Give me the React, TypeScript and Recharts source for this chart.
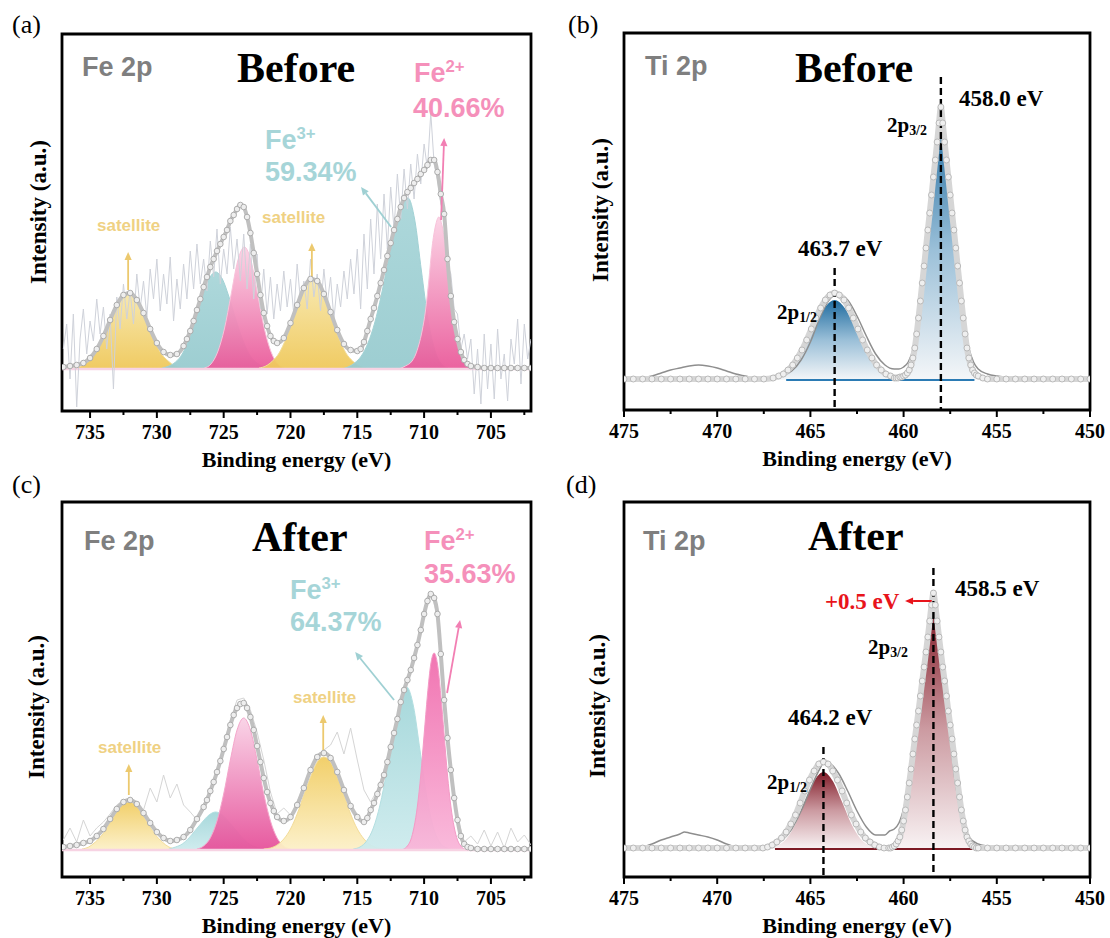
import React from "react";
import {
  ComposedChart,
  Area,
  Line,
  XAxis,
  YAxis,
  ReferenceLine,
  ReferenceArea,
} from "recharts";

type Pt = [number, number];

// ---------- axes ----------
const FE_TICKS = [702.5, 705, 707.5, 710, 712.5, 715, 717.5, 720, 722.5, 725, 727.5, 730, 732.5, 735];
const TI_TICKS = [450, 452.5, 455, 457.5, 460, 462.5, 465, 467.5, 470, 472.5, 475];

// ---------- (a) Fe 2p before ----------
const feBeforeRaw: Pt[] = [
  [737, 20], [736.75, 45], [736.5, -10], [736.25, 55], [736, -38], [735.75, 30], [735.5, 60], [735.25, 15],
  [735, 48], [734.75, 28], [734.5, 70], [734.25, 35], [734, 62], [733.75, 20], [733.5, 55], [733.25, -20],
  [733, 72], [732.75, 40], [732.5, 85], [732.25, 50], [732, 78], [731.75, 45], [731.5, 95], [731.25, 60],
  [731, 88], [730.75, 52], [730.5, 100], [730.25, 70], [730, 110], [729.75, 58], [729.5, 95], [729.25, 65],
  [729, 112], [728.75, 48], [728.5, 90], [728.25, 60], [728, 105], [727.75, 70], [727.5, 118], [727.25, 80],
  [727, 125], [726.75, 85], [726.5, 110], [726.25, 78], [726, 128], [725.75, 92], [725.5, 140], [725.25, 85],
  [725, 120], [724.75, 95], [724.5, 142], [724.25, 100], [724, 130], [723.75, 88], [723.5, 135], [723.25, 80],
  [723, 125], [722.75, 70], [722.5, 115], [722.25, 60], [722, 100], [721.75, 55], [721.5, 92], [721.25, 50],
  [721, 85], [720.75, 58], [720.5, 98], [720.25, 62], [720, 90], [719.75, 55], [719.5, 105], [719.25, 68],
  [719, 88], [718.75, 60], [718.5, 110], [718.25, 72], [718, 95], [717.75, 58], [717.5, 100], [717.25, 65],
  [717, 92], [716.75, 50], [716.5, 85], [716.25, 62], [716, 98], [715.75, 70], [715.5, 110], [715.25, 75],
  [715, 120], [714.75, 60], [714.5, 135], [714.25, 80], [714, 150], [713.75, 95], [713.5, 165], [713.25, 110],
  [713, 175], [712.75, 120], [712.5, 182], [712.25, 140], [712, 195], [711.75, 150], [711.5, 200], [711.25, 160],
  [711, 205], [710.75, 170], [710.5, 215], [710.25, 185], [710, 225], [709.75, 200], [709.5, 256], [709.25, 205],
  [709, 190], [708.75, 165], [708.5, 150], [708.25, 105], [708, 95], [707.75, 60], [707.5, 55], [707.25, 20],
  [707, 35], [706.75, 10], [706.5, 30], [706.25, -25], [706, 20], [705.75, -35], [705.5, 35], [705.25, -20],
  [705, 25], [704.75, -30], [704.5, 40], [704.25, -10], [704, 15], [703.75, -32], [703.5, 30], [703.25, 5],
  [703, 50], [702.75, -15], [702.5, 45], [702.25, 10], [702, 30],
];
const feBeforeEnvelope: Pt[] = [
  [737, 2], [736.5, 3], [736, 4], [735.5, 6], [735, 11], [734.5, 20], [734, 33], [733.5, 49], [733, 64],
  [732.5, 74], [732, 76], [731.5, 69], [731, 56], [730.5, 40], [730, 26], [729.5, 17], [729, 14], [728.5, 15],
  [728, 23], [727.75, 30], [727.5, 38], [727.25, 48], [727, 59], [726.75, 70], [726.5, 82], [726.25, 92],
  [726, 102], [725.75, 110], [725.5, 118], [725.25, 125], [725, 132], [724.75, 139], [724.5, 148], [724.25, 154],
  [724, 160], [723.75, 164], [723.5, 162], [723.25, 152], [723, 136], [722.75, 116], [722.5, 95], [722.25, 74],
  [722, 56], [721.75, 43], [721.5, 33], [721.25, 28], [721, 26], [720.5, 31], [720, 46], [719.5, 64], [719, 81],
  [718.5, 90], [718, 88], [717.5, 75], [717, 57], [716.5, 39], [716, 25], [715.5, 19], [715, 18], [714.75, 20],
  [714.5, 27], [714.25, 38], [714, 50], [713.75, 61], [713.5, 73], [713.25, 86], [713, 99], [712.75, 113],
  [712.5, 126], [712.25, 139], [712, 150], [711.75, 162], [711.5, 171], [711.25, 177], [711, 181], [710.75, 186],
  [710.5, 190], [710.25, 195], [710, 199], [709.75, 204], [709.5, 209], [709.25, 209], [709, 197], [708.75, 175],
  [708.5, 155], [708.25, 110], [708, 73], [707.75, 47], [707.5, 30], [707.25, 17], [707, 9], [706.75, 5],
  [706.5, 3], [706, 2], [705.5, 1], [705, 1], [704.5, 1], [704, 1], [703.5, 1], [703, 1], [702.5, 1], [702, 1],
];
const feBeforeSat1: Pt[] = [
  [736.65, 0], [736.15, 1], [735.65, 3], [735.15, 8], [734.65, 15], [734.15, 27], [733.65, 43], [733.15, 59],
  [732.65, 71], [732.15, 76], [731.65, 71], [731.15, 59], [730.65, 43], [730.15, 27], [729.65, 15], [729.15, 8],
  [728.65, 3], [728.15, 1], [727.65, 0],
];
const feBeforeFe3a: Pt[] = [
  [729.6, 1], [729.1, 3], [728.6, 7], [728.1, 15], [727.6, 30], [727.1, 50], [726.6, 72], [726.1, 90], [725.6, 97],
  [725.1, 90], [724.6, 72], [724.1, 50], [723.6, 30], [723.1, 15], [722.6, 7], [722.1, 3], [721.6, 1],
];
const feBeforeFe2a: Pt[] = [
  [726.45, 1], [725.95, 5], [725.45, 17], [724.95, 40], [724.45, 74], [723.95, 108], [723.45, 122],
  [722.95, 108], [722.45, 74], [721.95, 40], [721.45, 17], [720.95, 5], [720.45, 1],
];
const feBeforeSat2: Pt[] = [
  [722.35, 1], [721.85, 3], [721.35, 8], [720.85, 16], [720.35, 30], [719.85, 48], [719.35, 68], [718.85, 83],
  [718.35, 89], [717.85, 83], [717.35, 68], [716.85, 48], [716.35, 30], [715.85, 16], [715.35, 8], [714.85, 3], [714.35, 1],
];
const feBeforeFe3b: Pt[] = [
  [716.2, 0], [715.7, 2], [715.2, 6], [714.7, 13], [714.2, 26], [713.7, 46], [713.2, 74], [712.7, 107], [712.2, 137],
  [711.7, 160], [711.2, 171], [710.7, 149], [710.2, 98], [709.7, 49], [709.2, 19], [708.7, 5], [708.2, 1],
];
const feBeforeFe2b: Pt[] = [
  [711.9, 0], [711.4, 3], [710.9, 8], [710.65, 14], [710.4, 24], [710.15, 38], [709.9, 58], [709.65, 88],
  [709.4, 122], [709.15, 143], [708.9, 152], [708.65, 143], [708.4, 122], [708.15, 88], [707.9, 58],
  [707.65, 38], [707.4, 24], [707.15, 14], [706.9, 8], [706.4, 3], [705.9, 0],
];

// ---------- (c) Fe 2p after ----------
const feAfterRaw: Pt[] = [
  [737, 10], [736.5, 22], [736, 8], [735.5, 30], [735, 14], [734.5, 22], [734, 28], [733.5, 36], [733, 45],
  [732.5, 50], [732, 52], [731.5, 47], [731, 40], [730.5, 62], [730, 48], [729.5, 75], [729, 52], [728.5, 66],
  [728, 45], [727.5, 38], [727, 30], [726.5, 45], [726, 62], [725.5, 80], [725, 104], [724.5, 130], [724, 150],
  [723.5, 152], [723, 140], [722.5, 118], [722, 90], [721.5, 58], [721, 36], [720.5, 42], [720, 35], [719.5, 48],
  [719, 64], [718.5, 82], [718, 95], [717.5, 100], [717, 105], [716.5, 118], [716, 96], [715.5, 122], [715, 90],
  [714.5, 60], [714, 48], [713.5, 60], [713, 80], [712.5, 106], [712, 133], [711.5, 162], [711, 182], [710.5, 207],
  [710, 238], [709.5, 258], [709, 234], [708.5, 150], [708, 82], [707.5, 33], [707, 8], [706.5, 14], [706, 6],
  [705.5, 20], [705, 4], [704.5, 18], [704, 2], [703.5, 22], [703, 8], [702.5, 15], [702, 5],
];
const feAfterEnvelope: Pt[] = [
  [737, 3], [736.5, 4], [736, 5], [735.5, 7], [735, 9], [734.5, 14], [734, 21], [733.5, 31], [733, 41], [732.5, 48],
  [732, 50], [731.5, 46], [731, 37], [730.5, 27], [730, 18], [729.5, 12], [729, 9], [728.5, 10], [728, 13],
  [727.5, 20], [727, 31], [726.5, 43], [726.25, 50], [726, 59], [725.75, 68], [725.5, 78], [725.25, 89], [725, 101],
  [724.75, 113], [724.5, 125], [724.25, 135], [724, 142], [723.75, 146], [723.5, 147], [723.25, 142], [723, 133],
  [722.75, 120], [722.5, 104], [722.25, 88], [722, 72], [721.75, 58], [721.5, 47], [721.25, 39], [721, 33],
  [720.5, 29], [720, 33], [719.5, 45], [719, 62], [718.5, 80], [718, 93], [717.5, 97], [717, 92], [716.5, 78],
  [716, 60], [715.5, 44], [715, 33], [714.5, 28], [714.25, 32], [714, 40], [713.75, 47], [713.5, 56], [713.25, 65],
  [713, 75], [712.75, 88], [712.5, 103], [712.25, 117], [712, 131], [711.75, 148], [711.5, 160], [711.25, 170],
  [711, 180], [710.75, 192], [710.5, 205], [710.25, 220], [710, 236], [709.75, 249], [709.5, 256], [709.25, 252],
  [709, 236], [708.75, 196], [708.5, 150], [708.25, 112], [708, 80], [707.75, 52], [707.5, 30], [707.25, 14],
  [707, 6], [706.75, 3], [706.5, 2], [706, 1], [705.5, 1], [705, 1], [704.5, 1], [704, 1], [703.5, 1], [703, 1],
  [702.5, 1], [702, 1],
];
const feAfterSat1: Pt[] = [
  [735.6, 1], [735.1, 3], [734.6, 8], [734.1, 15], [733.6, 25], [733.1, 36], [732.6, 45], [732.1, 48],
  [731.6, 45], [731.1, 36], [730.6, 25], [730.1, 15], [729.6, 8], [729.1, 3], [728.6, 1],
];
const feAfterFe3a: Pt[] = [
  [729.1, 1], [728.6, 3], [728.1, 6], [727.6, 12], [727.1, 20], [726.6, 28], [726.1, 35], [725.6, 38],
  [725.1, 35], [724.6, 28], [724.1, 20], [723.6, 12], [723.1, 6], [722.6, 3], [722.1, 1],
];
const feAfterFe2a: Pt[] = [
  [727, 1], [726.5, 4], [726, 12], [725.5, 29], [725, 56], [724.5, 90], [724, 120], [723.5, 132],
  [723, 120], [722.5, 90], [722, 56], [721.5, 29], [721, 12], [720.5, 4], [720, 1],
];
const feAfterSat2: Pt[] = [
  [722, 1], [721.5, 2], [721, 5], [720.5, 11], [720, 21], [719.5, 36], [719, 55], [718.5, 73], [718, 88],
  [717.5, 93], [717, 88], [716.5, 73], [716, 55], [715.5, 36], [715, 21], [714.5, 11], [714, 5], [713.5, 2], [713, 1],
];
const feAfterFe3b: Pt[] = [
  [715.3, 1], [714.8, 3], [714.3, 9], [713.8, 22], [713.3, 45], [712.8, 78], [712.3, 114], [711.8, 145],
  [711.3, 163], [710.8, 144], [710.3, 99], [709.8, 53], [709.3, 22], [708.8, 7], [708.3, 2], [707.8, 0],
];
const feAfterFe2b: Pt[] = [
  [711.75, 0], [711.5, 1], [711.25, 4], [711, 10], [710.75, 23], [710.5, 44], [710.25, 75], [710, 115],
  [709.75, 155], [709.5, 186], [709.25, 197], [709, 186], [708.75, 155], [708.5, 115], [708.25, 75], [708, 44],
  [707.75, 23], [707.5, 10], [707.25, 4], [707, 1], [706.75, 0],
];

// ---------- (b) Ti 2p before ----------
const tiBeforeRaw: Pt[] = [
  [475, 2], [474.5, 1], [474, 2], [473.5, 4], [473, 7], [472.5, 10], [472, 12], [471.5, 14], [471, 15],
  [470.5, 14], [470, 12], [469.5, 9], [469, 6], [468.5, 4], [468, 2], [467.5, 1], [467, 2], [466.5, 4], [466, 9],
  [465.5, 20], [465, 38], [464.5, 62], [464, 80], [463.5, 86], [463, 80], [462.5, 64], [462, 44], [461.5, 26],
  [461, 15], [460.5, 11], [460.25, 11], [460, 13], [459.75, 18], [459.5, 30], [459.25, 55], [459, 90], [458.75, 135],
  [458.5, 185], [458.25, 235], [458, 272], [457.75, 240], [457.5, 190], [457.25, 140], [457, 95], [456.75, 58],
  [456.5, 32], [456.25, 18], [456, 11], [455.5, 6], [455, 4], [454.5, 3], [454, 3], [453.5, 2], [453, 2],
  [452.5, 2], [452, 1], [451.5, 1], [451, 1], [450.5, 1], [450, 1],
];
const tiBeforeEnvelope: Pt[] = [
  [475, 1], [474.5, 1], [474, 1], [473.5, 1], [473, 1], [472.5, 1], [472, 1], [471.5, 1], [471, 1], [470.5, 1],
  [470, 1], [469.5, 1], [469, 1], [468.5, 1], [468, 1], [467.5, 1], [467, 2], [466.7, 4], [466.45, 6], [466.2, 10],
  [465.95, 15], [465.7, 22], [465.45, 30], [465.2, 40], [464.95, 51], [464.7, 62], [464.45, 72], [464.2, 80],
  [463.95, 85], [463.7, 87], [463.45, 85], [463.2, 80], [462.95, 72], [462.7, 62], [462.45, 51], [462.2, 40],
  [461.95, 30], [461.7, 22], [461.45, 15], [461.2, 10], [460.95, 6], [460.7, 4], [460.5, 2], [460.4, 2], [460.3, 2],
  [460.2, 3], [460.1, 3], [460, 4], [459.9, 5], [459.8, 7], [459.7, 10], [459.6, 15], [459.5, 22], [459.4, 32],
  [459.3, 46], [459.2, 62], [459.1, 79], [459, 97], [458.9, 114], [458.8, 132], [458.7, 150], [458.6, 167],
  [458.5, 185], [458.4, 203], [458.3, 220], [458.2, 238], [458.1, 257], [458, 273], [457.9, 257], [457.8, 238],
  [457.7, 220], [457.6, 203], [457.5, 185], [457.4, 167], [457.3, 150], [457.2, 132], [457.1, 114], [457, 97],
  [456.9, 79], [456.8, 62], [456.7, 46], [456.6, 32], [456.5, 22], [456.4, 15], [456.3, 10], [456.2, 7],
  [456.1, 5], [456, 4], [455.75, 2], [455.5, 1], [455, 1], [454.5, 1], [454, 1], [453.5, 1], [453, 1], [452.5, 1],
  [452, 1], [451.5, 1], [451, 1], [450.5, 1], [450, 1],
];
const tiBefore32: Pt[] = [
  [460.5, 0], [460.25, 1], [460, 4], [459.75, 11], [459.5, 28], [459.25, 58], [459, 95], [458.75, 137],
  [458.5, 180], [458.25, 222], [458, 262], [457.75, 222], [457.5, 180], [457.25, 137], [457, 95], [456.75, 58],
  [456.5, 28], [456.25, 11], [456, 4], [455.75, 1], [455.5, 0],
];
const tiBefore12: Pt[] = [
  [467.7, 0], [467.2, 1], [466.7, 3], [466.2, 9], [465.7, 20], [465.2, 37], [464.7, 57], [464.2, 73], [463.7, 80],
  [463.2, 73], [462.7, 57], [462.2, 37], [461.7, 20], [461.2, 9], [460.7, 3], [460.2, 1], [459.7, 0],
];
const tiBeforeFitBase: Pt[] = [[466.3, 0], [456.2, 0]];

// ---------- (d) Ti 2p after ----------
const tiAfterRaw: Pt[] = [
  [475, 1], [474.5, 1], [474, 2], [473.5, 5], [473, 9], [472.5, 12], [472, 15], [471.75, 17], [471.5, 16],
  [471, 14], [470.5, 12], [470, 9], [469.5, 5], [469, 2], [468.5, 1], [468, 1], [467.5, 2], [467, 4], [466.5, 9],
  [466, 20], [465.5, 38], [465, 60], [464.5, 80], [464.25, 87], [464, 86], [463.5, 76], [463, 58], [462.5, 38],
  [462, 22], [461.5, 14], [461, 14], [460.75, 18], [460.5, 20], [460.25, 26], [460, 40], [459.75, 62], [459.5, 90],
  [459.25, 122], [459, 152], [458.75, 195], [458.5, 240], [458.4, 256], [458.25, 240], [458, 200], [457.75, 155],
  [457.5, 110], [457.25, 70], [457, 42], [456.75, 22], [456.5, 12], [456, 5], [455.5, 3], [455, 2], [454.5, 2],
  [454, 1], [453, 1], [452, 1], [451, 1], [450, 1],
];
const tiAfterEnvelope: Pt[] = [
  [475, 1], [474.5, 1], [474, 1], [473.5, 1], [473, 1], [472.5, 1], [472, 1], [471.5, 1], [471, 1], [470.5, 1],
  [470, 1], [469.5, 1], [469, 1], [468.5, 1], [468, 1], [467.55, 1], [467.3, 2], [467.05, 4], [466.8, 7],
  [466.55, 11], [466.3, 17], [466.05, 25], [465.8, 34], [465.55, 46], [465.3, 58], [465.05, 69], [464.8, 78],
  [464.55, 85], [464.3, 87], [464.05, 85], [463.8, 78], [463.55, 69], [463.3, 58], [463.05, 46], [462.8, 34],
  [462.55, 25], [462.3, 17], [462.05, 11], [461.8, 7], [461.55, 4], [461.3, 2], [461.05, 1], [460.8, 1], [460.7, 1],
  [460.6, 2], [460.5, 3], [460.4, 5], [460.3, 8], [460.2, 12], [460.1, 19], [460, 28], [459.9, 39], [459.8, 52],
  [459.7, 66], [459.6, 80], [459.5, 95], [459.4, 110], [459.3, 124], [459.2, 138], [459.1, 153], [459, 168],
  [458.9, 182], [458.8, 197], [458.7, 212], [458.6, 228], [458.5, 244], [458.4, 256], [458.3, 244], [458.2, 228],
  [458.1, 212], [458, 197], [457.9, 182], [457.8, 168], [457.7, 153], [457.6, 138], [457.5, 124], [457.4, 110],
  [457.3, 95], [457.2, 80], [457.1, 66], [457, 52], [456.9, 39], [456.8, 28], [456.7, 19], [456.6, 12], [456.5, 8],
  [456.4, 5], [456.3, 3], [456.2, 2], [456.1, 1], [456, 1], [455.5, 1], [455, 1], [454.5, 1], [454, 1], [453.5, 1],
  [453, 1], [452.5, 1], [452, 1], [451.5, 1], [451, 1], [450.5, 1], [450, 1],
];
const tiAfter32: Pt[] = [
  [460.9, 0], [460.65, 1], [460.4, 5], [460.15, 14], [459.9, 33], [459.65, 60], [459.4, 93], [459.15, 130],
  [458.9, 168], [458.65, 205], [458.4, 240], [458.15, 205], [457.9, 168], [457.65, 130], [457.4, 93],
  [457.15, 60], [456.9, 33], [456.65, 14], [456.4, 5], [456.15, 1], [455.9, 0],
];
const tiAfter12: Pt[] = [
  [467.8, 0], [467.3, 1], [466.8, 3], [466.3, 10], [465.8, 25], [465.3, 47], [464.8, 68], [464.3, 77],
  [463.8, 68], [463.3, 47], [462.8, 25], [462.3, 10], [461.8, 3], [461.3, 1], [460.8, 0],
];
const tiAfterFitBase: Pt[] = [[466.9, 0], [456.3, 0]];

// peak markers (position, top of dashed line)
const tiBeforeMarkers = [{ x: 463.7, top: 112 }, { x: 458.0, top: 303 }];
const tiAfterMarkers = [{ x: 464.3, top: 102 }, { x: 458.4, top: 281 }];

// ---------- styles ----------
const serif = '"Liberation Serif", "Times New Roman", Times, serif';
const sans = '"Liberation Sans", Arial, Helvetica, sans-serif';
const GOLD = "#ecc96e";
const TEAL = "#9fd0d3";
const PINK = "#f27fb3";
const PINK_TXT = "#f590ba";
const TEAL_TXT = "#a6d5d8";
const GOLD_TXT = "#efd183";
const GRAY_TXT = "#7f7f7f";

const FE_X: [number, number] = [702, 737.1];
const TI_X: [number, number] = [450, 475];

const toPts = (arr: Pt[]) => arr.map(([x, y]) => ({ x, y }));

function EnergyTick(props: any) {
  const { x, y, payload } = props;
  const major = payload.value % 5 === 0;
  return (
    <g>
      <line x1={x} x2={x} y1={y} y2={y + (major ? 7 : 4)} stroke="#000" strokeWidth={2} />
      {major && (
        <text x={x} y={y + 14} dy="0.71em" textAnchor="middle" fontFamily={serif} fontWeight="bold" fontSize={20} fill="#000">
          {payload.value}
        </text>
      )}
    </g>
  );
}

function ArrowShape(props: any) {
  const { x1, y1, x2, y2, stroke, strokeWidth } = props;
  const a = Math.atan2(y2 - y1, x2 - x1);
  const L = 8;
  const W = 3.6;
  const bx = x2 - L * Math.cos(a);
  const by = y2 - L * Math.sin(a);
  const px = -Math.sin(a) * W;
  const py = Math.cos(a) * W;
  return (
    <g>
      <line x1={x1} y1={y1} x2={bx} y2={by} stroke={stroke} strokeWidth={strokeWidth} />
      <polygon points={`${x2},${y2} ${bx + px},${by + py} ${bx - px},${by - py}`} fill={stroke} />
    </g>
  );
}

function axes(xDomain: [number, number], ticks: number[], yDomain: [number, number]) {
  return [
    <XAxis
      key="x"
      type="number"
      dataKey="x"
      domain={xDomain}
      reversed
      allowDataOverflow
      ticks={ticks}
      interval={0}
      axisLine={false}
      tickLine={false}
      tickSize={0}
      tickMargin={0}
      height={55}
      tick={(p: any) => <EnergyTick {...p} />}
      label={{
        value: "Binding energy (eV)",
        position: "insideTop",
        offset: 40,
        fontFamily: serif,
        fontWeight: "bold",
        fontSize: 22,
        fill: "#000",
      }}
    />,
    <YAxis key="y" type="number" dataKey="y" hide domain={yDomain} allowDataOverflow />,
  ];
}

function frame(xDomain: [number, number], yDomain: [number, number]) {
  return (
    <ReferenceArea
      key="frame"
      x1={xDomain[0]}
      x2={xDomain[1]}
      y1={yDomain[0]}
      y2={yDomain[1]}
      ifOverflow="visible"
      fill="none"
      fillOpacity={0}
      stroke="#000"
      strokeWidth={2.8}
    />
  );
}

function peak(key: string, pts: Pt[], fill: string, stroke: string, strokeWidth = 1) {
  return (
    <Area
      key={key}
      data={toPts(pts)}
      dataKey="y"
      type="monotone"
      baseValue={0}
      fill={fill}
      fillOpacity={0.95}
      stroke={strokeWidth > 0 ? stroke : "none"}
      strokeWidth={strokeWidth}
      dot={false}
      activeDot={false}
      isAnimationActive={false}
    />
  );
}

function arrow(key: string, from: Pt, to: Pt, color: string, width = 1.8) {
  return (
    <ReferenceLine
      key={key}
      segment={[{ x: from[0], y: from[1] }, { x: to[0], y: to[1] }]}
      stroke={color}
      strokeWidth={width}
      ifOverflow="visible"
      shape={(p: any) => <ArrowShape {...p} />}
    />
  );
}

function dashed(key: string, x: number, top: number, bottom: number) {
  return (
    <ReferenceLine
      key={key}
      segment={[{ x, y: top }, { x, y: bottom }]}
      stroke="#000"
      strokeWidth={2.4}
      strokeDasharray="7 4"
      ifOverflow="visible"
    />
  );
}

function grad(id: string, stops: [number, string][]) {
  return (
    <linearGradient key={id} id={id} x1="0" y1="0" x2="0" y2="1">
      {stops.map(([o, c], i) => (
        <stop key={i} offset={o} stopColor={c} />
      ))}
    </linearGradient>
  );
}

function FePanel(props: {
  left: number;
  top: number;
  height: number;
  margin: any;
  yDomain: [number, number];
  raw: Pt[];
  rawColor: string;
  envelope: Pt[];
  peaks: { key: string; pts: Pt[]; fill: string; stroke: string }[];
  defs: React.ReactNode;
  arrows: { from: Pt; to: Pt; color: string }[];
}) {
  const { left, top, height, margin, yDomain, raw, rawColor, envelope, peaks, defs, arrows } = props;
  return (
    <div style={{ position: "absolute", left, top }}>
      <ComposedChart width={555} height={height} margin={margin}>
        <defs>{defs}</defs>
        {axes(FE_X, FE_TICKS, yDomain)}
        <ReferenceLine y={0} stroke="#f7d3e3" strokeWidth={2.5} />
        <Line data={toPts(raw)} dataKey="y" type="linear" stroke={rawColor} strokeWidth={1} dot={false} activeDot={false} isAnimationActive={false} />
        {peaks.map((p) => peak(p.key, p.pts, p.fill, p.stroke))}
        <Line
          data={toPts(envelope)}
          dataKey="y"
          type="monotone"
          stroke="#c0c0c0"
          strokeWidth={4}
          dot={{ r: 2.8, fill: "#eeeeee", stroke: "#a6a6a6", strokeWidth: 0.9 }}
          activeDot={false}
          isAnimationActive={false}
        />
        {arrows.map((a, i) => arrow(`ar${i}`, a.from, a.to, a.color))}
        {frame(FE_X, yDomain)}
      </ComposedChart>
    </div>
  );
}

function TiPanel(props: {
  left: number;
  top: number;
  height: number;
  margin: any;
  yDomain: [number, number];
  raw: Pt[];
  envelope: Pt[];
  p32: Pt[];
  p12: Pt[];
  fitBase: Pt[];
  gradId: string;
  gradStops: [number, string][];
  edge: string;
  edgeWidth: number;
  markers: { x: number; top: number }[];
  extra?: React.ReactNode;
}) {
  const { left, top, height, margin, yDomain, raw, envelope, p32, p12, fitBase, gradId, gradStops, edge, edgeWidth, markers, extra } = props;
  return (
    <div style={{ position: "absolute", left, top }}>
      <ComposedChart width={555} height={height} margin={margin}>
        <defs>{grad(gradId, gradStops)}</defs>
        {axes(TI_X, TI_TICKS, yDomain)}
        {peak("p12", p12, `url(#${gradId})`, edge, 0)}
        {peak("p32", p32, `url(#${gradId})`, edge, edgeWidth)}
        <Line data={toPts(raw)} dataKey="y" type="monotone" stroke="#8e8e8e" strokeWidth={1.5} dot={false} activeDot={false} isAnimationActive={false} />
        <Line
          data={toPts(envelope)}
          dataKey="y"
          type="monotone"
          stroke="#d6d6d6"
          strokeWidth={6}
          dot={{ r: 3, fill: "#efefef", stroke: "#b4b4b4", strokeWidth: 0.9 }}
          activeDot={false}
          isAnimationActive={false}
        />
        <Line data={toPts(fitBase)} dataKey="y" type="linear" stroke={edge} strokeWidth={2} dot={false} activeDot={false} isAnimationActive={false} />
        {markers.map((m, i) => dashed(`d${i}`, m.x, m.top, yDomain[0]))}
        {extra}
        {frame(TI_X, yDomain)}
      </ComposedChart>
    </div>
  );
}

// ---------- text overlays ----------
function Txt({ x, y, size, color = "#000", font = serif, weight = 700, children }: any) {
  return (
    <div
      style={{
        position: "absolute",
        left: x,
        top: y - size / 2,
        fontSize: size,
        lineHeight: 1,
        fontFamily: font,
        fontWeight: weight,
        color,
        whiteSpace: "nowrap",
      }}
    >
      {children}
    </div>
  );
}

function VTxt({ cx, cy, children }: any) {
  return (
    <div
      style={{
        position: "absolute",
        left: cx,
        top: cy,
        transform: "translate(-50%, -50%) rotate(-90deg)",
        fontSize: 23,
        lineHeight: 1,
        fontFamily: serif,
        fontWeight: 700,
        whiteSpace: "nowrap",
      }}
    >
      {children}
    </div>
  );
}

const Sup = ({ children }: any) => (
  <span style={{ fontSize: "0.62em", position: "relative", top: "-0.55em" }}>{children}</span>
);
const Sub = ({ children }: any) => (
  <span style={{ fontSize: "0.66em", position: "relative", top: "0.28em" }}>{children}</span>
);

export default function App() {
  const feBeforeDefs = [
    grad("aSat", [[0, "#f7e7ab"], [1, "#efc85a"]]),
    grad("aTeal", [[0, "#a9d6d9"], [1, "#98cbcf"]]),
    grad("aPink", [[0, "#fbd3e5"], [1, "#ea5a9a"]]),
  ];
  const feAfterDefs = [
    grad("cSat", [[0, "#f1cd63"], [1, "#fcf0c8"]]),
    grad("cTeal", [[0, "#a2d6d9"], [1, "#cdebed"]]),
    grad("cPink", [[0, "#f9d2e6"], [1, "#e6519a"]]),
    grad("cPink2", [[0, "#f06eae"], [1, "#f9b6d9"]]),
  ];

  return (
    <div style={{ position: "absolute", left: 0, top: 0, width: 1110, height: 938, background: "#fff", overflow: "hidden" }}>
      <FePanel
        left={0}
        top={0}
        height={480}
        margin={{ top: 34, right: 24, bottom: 14, left: 62 }}
        yDomain={[-42, 335]}
        raw={feBeforeRaw}
        rawColor="#cfd2da"
        envelope={feBeforeEnvelope}
        defs={feBeforeDefs}
        peaks={[
          { key: "s1", pts: feBeforeSat1, fill: "url(#aSat)", stroke: "#f2dc98" },
          { key: "t1", pts: feBeforeFe3a, fill: "url(#aTeal)", stroke: "#a2d2d5" },
          { key: "p1", pts: feBeforeFe2a, fill: "url(#aPink)", stroke: "#f8c2da" },
          { key: "s2", pts: feBeforeSat2, fill: "url(#aSat)", stroke: "#f2dc98" },
          { key: "t2", pts: feBeforeFe3b, fill: "url(#aTeal)", stroke: "#a2d2d5" },
          { key: "p2", pts: feBeforeFe2b, fill: "url(#aPink)", stroke: "#f8c2da" },
        ]}
        arrows={[
          { from: [732.15, 79], to: [732.15, 117], color: GOLD },
          { from: [718.4, 91], to: [718.4, 126], color: GOLD },
          { from: [712.47, 142], to: [714.72, 182], color: TEAL },
          { from: [708.73, 149], to: [708.5, 231], color: PINK },
        ]}
      />
      <TiPanel
        left={555}
        top={0}
        height={480}
        margin={{ top: 33, right: 20, bottom: 15, left: 69 }}
        yDomain={[-30, 347]}
        raw={tiBeforeRaw}
        envelope={tiBeforeEnvelope}
        p32={tiBefore32}
        p12={tiBefore12}
        fitBase={tiBeforeFitBase}
        gradId="bBlue"
        gradStops={[[0, "#12639a"], [0.5, "#95bcd6"], [1, "#f4f6f8"]]}
        edge="#2b7bb4"
        edgeWidth={2}
        markers={tiBeforeMarkers}
      />
      <FePanel
        left={0}
        top={470}
        height={468}
        margin={{ top: 32, right: 24, bottom: 6, left: 62 }}
        yDomain={[-27, 348]}
        raw={feAfterRaw}
        rawColor="#d5d5d5"
        envelope={feAfterEnvelope}
        defs={feAfterDefs}
        peaks={[
          { key: "s1", pts: feAfterSat1, fill: "url(#cSat)", stroke: "#f3dc98" },
          { key: "t1", pts: feAfterFe3a, fill: "url(#cTeal)", stroke: "#b3dfe1" },
          { key: "p1", pts: feAfterFe2a, fill: "url(#cPink)", stroke: "#f4a6cb" },
          { key: "s2", pts: feAfterSat2, fill: "url(#cSat)", stroke: "#f3dc98" },
          { key: "t2", pts: feAfterFe3b, fill: "url(#cTeal)", stroke: "#b3dfe1" },
          { key: "p2", pts: feAfterFe2b, fill: "url(#cPink2)", stroke: "#f49ac6" },
        ]}
        arrows={[
          { from: [732.1, 55], to: [732.1, 86], color: GOLD },
          { from: [717.55, 100], to: [717.55, 135], color: GOLD },
          { from: [712.25, 150], to: [715.16, 198], color: TEAL },
          { from: [708.28, 157], to: [707.31, 230], color: PINK },
        ]}
      />
      <TiPanel
        left={555}
        top={470}
        height={468}
        margin={{ top: 32, right: 20, bottom: 6, left: 69 }}
        yDomain={[-28, 347]}
        raw={tiAfterRaw}
        envelope={tiAfterEnvelope}
        p32={tiAfter32}
        p12={tiAfter12}
        fitBase={tiAfterFitBase}
        gradId="dRed"
        gradStops={[[0, "#7a0f1c"], [0.5, "#c9959c"], [1, "#f8f2f3"]]}
        edge="#7d1a24"
        edgeWidth={0}
        markers={tiAfterMarkers}
        extra={arrow("shift", [458.49, 248], [459.92, 248], "#e8141b", 2)}
      />

      {/* (a) */}
      <Txt x={12} y={25} size={26} weight={400}>(a)</Txt>
      <Txt x={82} y={67} size={27} font={sans} color={GRAY_TXT}>Fe 2p</Txt>
      <Txt x={237} y={68} size={42}>Before</Txt>
      <Txt x={414} y={73} size={27} font={sans} color={PINK_TXT}>Fe<Sup>2+</Sup></Txt>
      <Txt x={413} y={108} size={27} font={sans} color={PINK_TXT}>40.66%</Txt>
      <Txt x={265} y={140} size={27} font={sans} color={TEAL_TXT}>Fe<Sup>3+</Sup></Txt>
      <Txt x={265} y={172} size={27} font={sans} color={TEAL_TXT}>59.34%</Txt>
      <Txt x={97} y={225} size={17} font={sans} color={GOLD_TXT}>satellite</Txt>
      <Txt x={262} y={217} size={17} font={sans} color={GOLD_TXT}>satellite</Txt>
      <VTxt cx={38} cy={212}>Intensity (a.u.)</VTxt>

      {/* (b) */}
      <Txt x={568} y={25} size={26} weight={400}>(b)</Txt>
      <Txt x={645} y={66} size={27} font={sans} color={GRAY_TXT}>Ti 2p</Txt>
      <Txt x={795} y={68} size={42}>Before</Txt>
      <Txt x={959} y={98} size={23}>458.0 eV</Txt>
      <Txt x={887} y={125} size={21}>2p<Sub>3/2</Sub></Txt>
      <Txt x={798} y={248} size={23}>463.7 eV</Txt>
      <Txt x={777} y={312} size={21}>2p<Sub>1/2</Sub></Txt>
      <VTxt cx={600} cy={210}>Intensity (a.u.)</VTxt>

      {/* (c) */}
      <Txt x={12} y={485} size={26} weight={400}>(c)</Txt>
      <Txt x={84} y={541} size={27} font={sans} color={GRAY_TXT}>Fe 2p</Txt>
      <Txt x={252} y={537} size={42}>After</Txt>
      <Txt x={424} y={541} size={27} font={sans} color={PINK_TXT}>Fe<Sup>2+</Sup></Txt>
      <Txt x={424} y={574} size={27} font={sans} color={PINK_TXT}>35.63%</Txt>
      <Txt x={290} y={590} size={27} font={sans} color={TEAL_TXT}>Fe<Sup>3+</Sup></Txt>
      <Txt x={290} y={622} size={27} font={sans} color={TEAL_TXT}>64.37%</Txt>
      <Txt x={98} y={747} size={17} font={sans} color={GOLD_TXT}>satellite</Txt>
      <Txt x={293} y={697} size={17} font={sans} color={GOLD_TXT}>satellite</Txt>
      <VTxt cx={36} cy={707}>Intensity (a.u.)</VTxt>

      {/* (d) */}
      <Txt x={566} y={485} size={26} weight={400}>(d)</Txt>
      <Txt x={643} y={541} size={27} font={sans} color={GRAY_TXT}>Ti 2p</Txt>
      <Txt x={808} y={536} size={42}>After</Txt>
      <Txt x={955} y={588} size={23}>458.5 eV</Txt>
      <Txt x={825} y={601} size={23} color="#e8141b">+0.5 eV</Txt>
      <Txt x={868} y={647} size={21}>2p<Sub>3/2</Sub></Txt>
      <Txt x={788} y={717} size={23}>464.2 eV</Txt>
      <Txt x={767} y={782} size={21}>2p<Sub>1/2</Sub></Txt>
      <VTxt cx={597} cy={706}>Intensity (a.u.)</VTxt>
    </div>
  );
}
